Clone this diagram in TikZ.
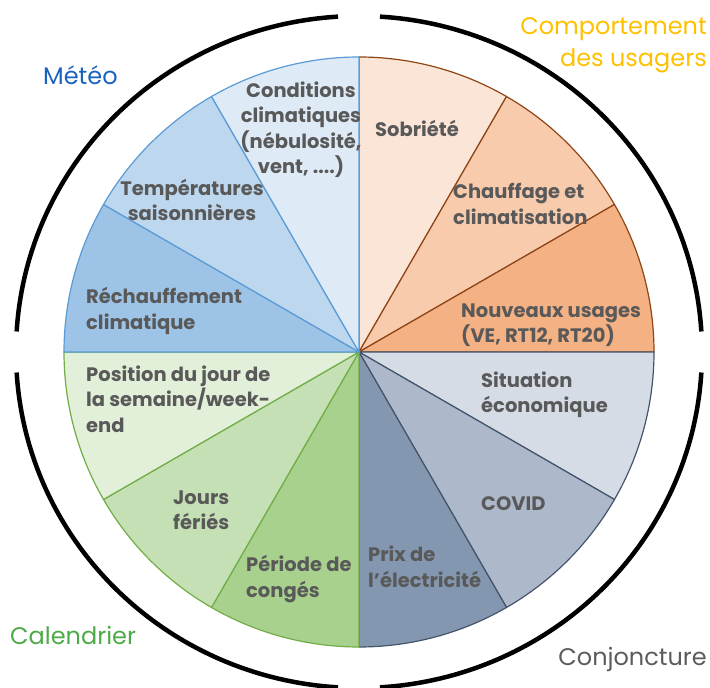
\documentclass[tikz,border=0pt]{standalone}
\usepackage{fontspec}
\setmainfont{Poppins}
\definecolor{txt}{HTML}{595959}
\definecolor{o1}{HTML}{FBE5D6}\definecolor{o2}{HTML}{F8CBAD}\definecolor{o3}{HTML}{F4B183}\definecolor{oL}{HTML}{8F4515}
\definecolor{g1}{HTML}{D6DCE5}\definecolor{g2}{HTML}{ADB9CA}\definecolor{g3}{HTML}{8497B0}\definecolor{gL}{HTML}{44546A}
\definecolor{v1}{HTML}{E2F0D9}\definecolor{v2}{HTML}{C5E0B4}\definecolor{v3}{HTML}{A9D18E}\definecolor{vL}{HTML}{70AD47}
\definecolor{b1}{HTML}{DEEBF7}\definecolor{b2}{HTML}{BDD7EE}\definecolor{b3}{HTML}{9DC3E6}\definecolor{bL}{HTML}{5B9BD5}
\definecolor{meteo}{HTML}{1A62C0}\definecolor{comport}{HTML}{FFC000}\definecolor{calend}{HTML}{4EAA48}\definecolor{conj}{HTML}{5C5C5C}
\newcommand{\sect}[4]{\filldraw[sectline,fill=#3,draw=#4] (C) -- ++(#1:295) arc[start angle=#1,end angle=#2,radius=295] -- cycle;}
\begin{document}
\begin{tikzpicture}[x=1pt,y=1pt,
  sectline/.style={line width=1.2pt,line join=round},
  rim/.style={line width=4.5pt,black},
  lab/.style={inner sep=0pt,text=txt,font=\fontsize{19.5}{25.5}\selectfont\bfseries},
  cat/.style={inner sep=0pt,font=\fontsize{24}{32}\selectfont}]
\useasboundingbox (0,0) rectangle (710,688);
\coordinate (C) at (359,336);
% orange group
\sect{60}{90}{o1}{oL}
\sect{30}{60}{o2}{oL}
\sect{0}{30}{o3}{oL}
% grey group
\sect{-30}{0}{g1}{gL}
\sect{-60}{-30}{g2}{gL}
\sect{-90}{-60}{g3}{gL}
% green group
\sect{240}{270}{v3}{vL}
\sect{210}{240}{v2}{vL}
\sect{180}{210}{v1}{vL}
% blue group
\sect{150}{180}{b3}{bL}
\sect{120}{150}{b2}{bL}
\sect{90}{120}{b1}{bL}
% outer arcs
\draw[rim] (C) ++(3.5:343 and 336) arc[start angle=3.5,end angle=86.5,x radius=343,y radius=336];
\draw[rim] (C) ++(93.5:343 and 336) arc[start angle=93.5,end angle=176.5,x radius=343,y radius=336];
\draw[rim] (C) ++(183.5:343 and 336) arc[start angle=183.5,end angle=266.5,x radius=343,y radius=336];
\draw[rim] (C) ++(273.5:343 and 336) arc[start angle=273.5,end angle=356.5,x radius=343,y radius=336];
% sector labels
\node[lab,align=center] (cond) at (301,558.5) {Conditions\\climatiques\\(nébulosité,\\vent, ....)};
\node[lab,align=center] (temp) at (192,488) {Températures\\saisonnières};
\node[lab,align=left,anchor=west] (rech) at (86,377) {Réchauffement\\climatique};
\node[lab,align=left,anchor=west] (sob) at (375,560) {Sobriété};
\node[lab,align=left,anchor=west] (chauf) at (453,484) {Chauffage et\\climatisation};
\node[lab,align=left,anchor=west] (nouv) at (461,363) {Nouveaux usages\\(VE, RT12, RT20)};
\node[lab,align=left,anchor=west] (sit) at (481,293) {Situation\\économique};
\node[lab,align=left,anchor=west] (covid) at (481,184) {COVID};
\node[lab,align=left,anchor=west] (prix) at (368,121) {Prix de\\l’électricité};
\node[lab,align=left,anchor=west] (conges) at (246,109) {Période de\\congés};
\node[lab,align=left,anchor=west] (feries) at (173,178) {Jours\\fériés};
\node[lab,align=left,anchor=west] (pos) at (86,289) {Position du jour de\\la semaine/week-\\end};
% category labels
\node[cat,text=meteo,anchor=base west] (meteo) at (43,603) {Météo};
\node[cat,text=comport,align=right,anchor=east] (comp) at (707,643) {Comportement\\des usagers};
\node[cat,text=calend,anchor=base west] (cal) at (10,43) {Calendrier};
\node[cat,text=conj,anchor=base east] (conjo) at (707,22) {Conjoncture};
\end{tikzpicture}
\end{document}
